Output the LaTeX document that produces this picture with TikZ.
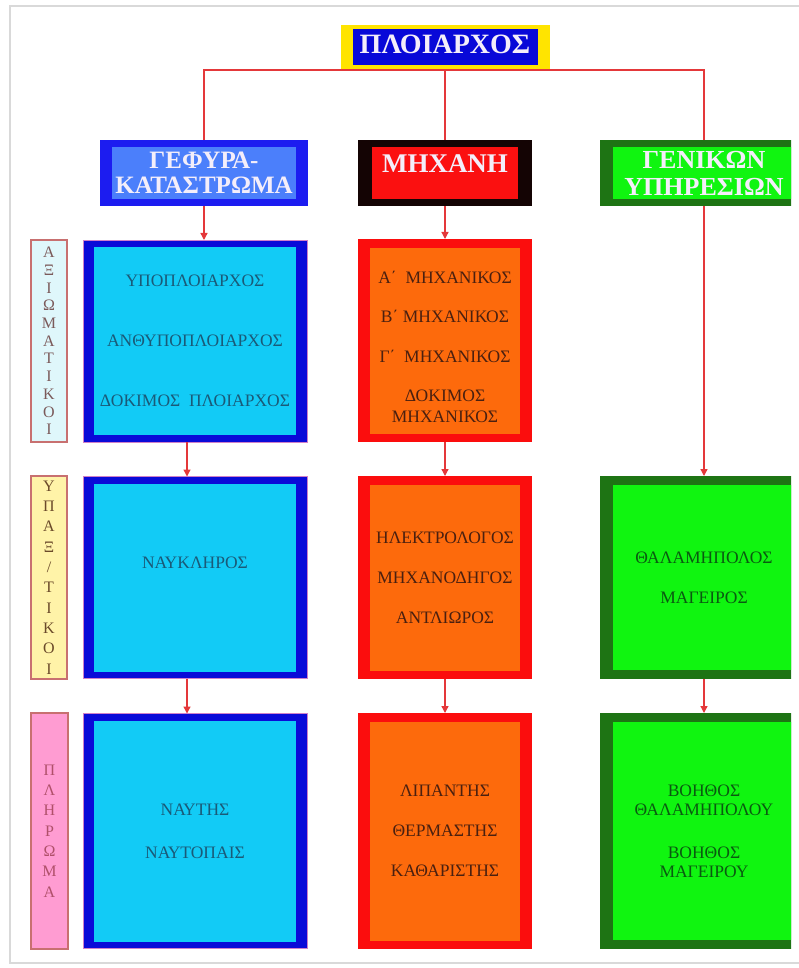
\documentclass[tikz,border=0pt]{standalone}
\usepackage{fontspec}
\setmainfont{Liberation Serif}
\usetikzlibrary{arrows.meta}
\definecolor{linered}{HTML}{E4383A}
\definecolor{capyel}{HTML}{FFE400}
\definecolor{capblue}{HTML}{0808D8}
\definecolor{hbo}{HTML}{1C1CF0}
\definecolor{hbi}{HTML}{4B7FFB}
\definecolor{hro}{HTML}{140404}
\definecolor{hri}{HTML}{FB1010}
\definecolor{gro}{HTML}{1E7414}
\definecolor{gri}{HTML}{10F510}
\definecolor{bbo}{HTML}{0A0AD8}
\definecolor{bbi}{HTML}{12CBF6}
\definecolor{obo}{HTML}{FB0D0D}
\definecolor{obi}{HTML}{FD6A0C}
\definecolor{btxt}{HTML}{1A5A78}
\definecolor{otxt}{HTML}{4A2010}
\definecolor{gtxt}{HTML}{0A5A10}
\definecolor{htxt}{HTML}{F4EEFA}
\definecolor{pinkline}{HTML}{D080C8}
\definecolor{sonefill}{HTML}{DFF7FB}
\definecolor{stwofill}{HTML}{FFF3A8}
\definecolor{sthreefill}{HTML}{FF9CD2}
\definecolor{sline}{HTML}{C87070}
\definecolor{sonetxt}{HTML}{7B5A5A}
\definecolor{stwotxt}{HTML}{6B4A2A}
\definecolor{sthreetxt}{HTML}{B0506A}
\tikzset{
  conn/.style={draw=linered, line width=1.3pt},
  arr/.style={conn, -{Triangle[width=7pt,length=7pt]}},
  dbox/.style n args={4}{inner sep=0pt, outer sep=0pt, fill=#1, align=center,
    path picture={\fill[#2] ([shift={(#3,-#4)}]path picture bounding box.north west)
      rectangle ([shift={(-#3,#4)}]path picture bounding box.south east);}},
  captop/.style={dbox={capyel}{capblue}{12pt}{4.5pt}, minimum width=209pt, minimum height=45pt,
    text=htxt, text depth=7pt, font=\fontsize{28}{30}\selectfont\bfseries},
  hdr/.style={minimum height=66pt, text=htxt, font=\fontsize{25}{25}\selectfont\bfseries},
  bluebox/.style={dbox={bbo}{bbi}{11pt}{7pt}, draw=pinkline, line width=0.8pt,
    minimum width=224pt, text=btxt},
  orbox/.style={dbox={obo}{obi}{12pt}{8.5pt}, minimum width=174pt, text=otxt},
  grbox/.style={dbox={gro}{gri}{13pt}{9pt}, minimum width=208pt, text=gtxt},
  sidelab/.style n args={3}{fill=#1, draw=sline, text=#2, line width=1.2pt,
    minimum width=36pt, minimum height=#3, inner sep=0pt, align=center},
}
\begin{document}
\begin{tikzpicture}[x=1pt,y=-1pt]
\useasboundingbox (0,0) rectangle (798,968);
\draw[gray!30, line width=1.5pt] (800,6) -- (10,6) -- (10,963) -- (800,963);
\begin{scope}
\clip (0,0) rectangle (791,968);
% top
\node[captop] (cap) at (445,47.5) {ΠΛΟΙΑΡΧΟΣ};
% headers
\node[dbox={hbo}{hbi}{12pt}{7pt}, hdr, minimum width=208pt] (h1) at (204,173) {ΓΕΦΥΡΑ-\\ΚΑΤΑΣΤΡΩΜΑ};
\node[dbox={hro}{hri}{14pt}{7pt}, hdr, minimum width=174pt, font=\fontsize{27}{26}\selectfont\bfseries] (h2) at (445,173) {ΜΗΧΑΝΗ\\[-7pt]\mbox{}};
\node[dbox={gro}{gri}{13pt}{7pt}, hdr, minimum width=208pt, font=\fontsize{26}{27}\selectfont\bfseries] (h3) at (704,173) {ΓΕΝΙΚΩΝ\\ΥΠΗΡΕΣΙΩΝ};
% row 2
\node[sidelab={sonefill}{sonetxt}{202pt}, font=\fontsize{16}{17.7}\selectfont] (s1) at (49,341)
  {Α\\Ξ\\Ι\\Ω\\Μ\\Α\\Τ\\Ι\\Κ\\Ο\\Ι};
\node[bluebox, minimum height=202pt, font=\fontsize{17.5}{60}\selectfont] (b2) at (195,341)
  {ΥΠΟΠΛΟΙΑΡΧΟΣ\\ΑΝΘΥΠΟΠΛΟΙΑΡΧΟΣ\\ΔΟΚΙΜΟΣ~~ΠΛΟΙΑΡΧΟΣ};
\node[orbox, minimum height=203pt, font=\fontsize{17.5}{21}\selectfont] (o2) at (445,340.5)
  {\mbox{}\\[5pt]Α΄~~ΜΗΧΑΝΙΚΟΣ\\[18pt]Β΄~ΜΗΧΑΝΙΚΟΣ\\[19pt]Γ΄~~ΜΗΧΑΝΙΚΟΣ\\[18pt]ΔΟΚΙΜΟΣ\\ΜΗΧΑΝΙΚΟΣ};
% row 3
\node[sidelab={stwofill}{stwotxt}{203pt}, font=\fontsize{16}{20.3}\selectfont] (s2) at (49,577.5)
  {Υ\\Π\\Α\\Ξ\\/\\Τ\\Ι\\Κ\\Ο\\Ι};
\node[bluebox, minimum height=202pt, font=\fontsize{17.5}{21}\selectfont] (b3) at (195,577.5)
  {ΝΑΥΚΛΗΡΟΣ\\[8pt]\mbox{}};
\node[orbox, minimum height=203pt, font=\fontsize{17.5}{40}\selectfont] (o3) at (445,577.5)
  {ΗΛΕΚΤΡΟΛΟΓΟΣ\\ΜΗΧΑΝΟΔΗΓΟΣ\\ΑΝΤΛΙΩΡΟΣ};
\node[grbox, minimum height=203pt, font=\fontsize{17.5}{40}\selectfont] (g3) at (704,577.5)
  {ΘΑΛΑΜΗΠΟΛΟΣ\\ΜΑΓΕΙΡΟΣ};
% row 4
\node[sidelab={sthreefill}{sthreetxt}{236pt}, minimum width=37pt, font=\fontsize{16}{20.3}\selectfont] (s3) at (49.5,831)
  {Π\\Λ\\Η\\Ρ\\Ω\\Μ\\Α};
\node[bluebox, minimum height=235pt, font=\fontsize{17.5}{43}\selectfont] (b4) at (195,831)
  {ΝΑΥΤΗΣ\\ΝΑΥΤΟΠΑΙΣ};
\node[orbox, minimum height=236pt, font=\fontsize{17.5}{40}\selectfont] (o4) at (445,831)
  {ΛΙΠΑΝΤΗΣ\\ΘΕΡΜΑΣΤΗΣ\\ΚΑΘΑΡΙΣΤΗΣ};
\node[grbox, minimum height=236pt, font=\fontsize{17.5}{19}\selectfont] (g4) at (704,831)
  {ΒΟΗΘΟΣ\\ΘΑΛΑΜΗΠΟΛΟΥ\\[24pt]ΒΟΗΘΟΣ\\ΜΑΓΕΙΡΟΥ};
% connectors
\draw[conn] (cap.south) -| (h1.north);
\draw[conn] (cap.south) -- (h2.north);
\draw[conn] (cap.south) -| (h3.north);
\draw[arr] (h1.south) -- (h1.south |- b2.north);
\draw[arr] ([xshift=-8pt]b2.south) -- ([xshift=-8pt]b3.north);
\draw[arr] ([xshift=-8pt]b3.south) -- ([xshift=-8pt]b4.north);
\draw[arr] (h2.south) -- (o2.north);
\draw[arr] (o2.south) -- (o3.north);
\draw[arr] (o3.south) -- (o4.north);
\draw[arr] (h3.south) -- (g3.north);
\draw[arr] (g3.south) -- (g4.north);
\end{scope}
\end{tikzpicture}
\end{document}
